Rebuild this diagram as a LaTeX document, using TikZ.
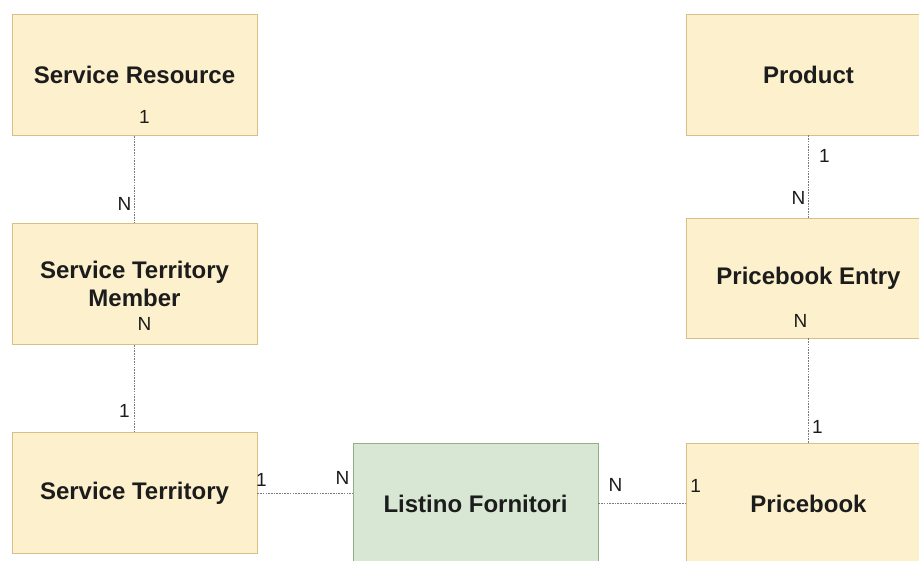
\documentclass[tikz,border=0pt]{standalone}
\usepackage{fontspec}
\setmainfont{Liberation Sans}
\definecolor{entfill}{HTML}{FCF0CD}
\definecolor{entdraw}{HTML}{D8BF86}
\definecolor{linkfill}{HTML}{D8E7D4}
\definecolor{linkdraw}{HTML}{93B083}
\definecolor{txt}{HTML}{1C1C1C}
\definecolor{wire}{HTML}{7A7A7A}
\tikzset{
  entity/.style={draw=entdraw, fill=entfill, line width=0.9pt,
    minimum width=245pt, minimum height=121pt, inner sep=0pt,
    text=txt, align=center, font=\fontsize{24}{28}\selectfont\bfseries},
  linkent/.style={entity, draw=linkdraw, fill=linkfill},
  card/.style={text=txt, inner sep=0pt, font=\fontsize{19}{22}\selectfont},
  rel/.style={draw=wire, line width=0.8pt, dash pattern=on 1.6pt off 1.1pt}
}
\begin{document}
\begin{tikzpicture}[x=1pt, y=-1pt]
  \useasboundingbox (0,0) rectangle (919,560);
  \clip (0,0) rectangle (919,560);
  \fill[white] (0,0) rectangle (919,560);

  % entities
  \node[entity] (sr)  at (134.5, 75)    {Service Resource};
  \node[entity] (stm) at (134.5, 284)   {Service Territory\\Member};
  \node[entity] (st)  at (134.5, 493)   {Service Territory};
  \node[linkent] (lf) at (475.5, 503.5) {Listino Fornitori};
  \node[entity] (pr)  at (808.5, 74.5)  {Product};
  \node[entity, minimum height=120pt] (pe) at (808.5, 278) {Pricebook Entry};
  \node[entity] (pb)  at (808.5, 503.5) {Pricebook};

  % relationships
  \draw[rel] (sr.south) -- (stm.north);
  \draw[rel] (stm.south) -- (st.north);
  \draw[rel] (st.east) -- (st.east -| lf.west);
  \draw[rel] (lf.east) -- (pb.west);
  \draw[rel] (pr.south) -- (pe.north);
  \draw[rel] (pe.south) -- (pb.north);

  % cardinalities
  \node[card] (c1)  at ([shift={(10,-19)}]sr.south)   {1};
  \node[card] (c2)  at ([shift={(-10,-19)}]stm.north) {N};
  \node[card] (c3)  at ([shift={(10,-21)}]stm.south)  {N};
  \node[card] (c4)  at ([shift={(-10,-21)}]st.north)  {1};
  \node[card] (c5)  at ([shift={(4,-13)}]st.east)     {1};
  \node[card] (c6)  at ([shift={(-10,-26)}]lf.west)   {N};
  \node[card] (c7)  at ([shift={(17,-19)}]lf.east)    {N};
  \node[card] (c8)  at ([shift={(10,-18)}]pb.west)    {1};
  \node[card] (c9)  at ([shift={(16,21)}]pr.south)    {1};
  \node[card] (c10) at ([shift={(-10,-20)}]pe.north)  {N};
  \node[card] (c11) at ([shift={(-8,-17)}]pe.south)   {N};
  \node[card] (c12) at ([shift={(9,-16)}]pb.north)    {1};
\end{tikzpicture}
\end{document}
